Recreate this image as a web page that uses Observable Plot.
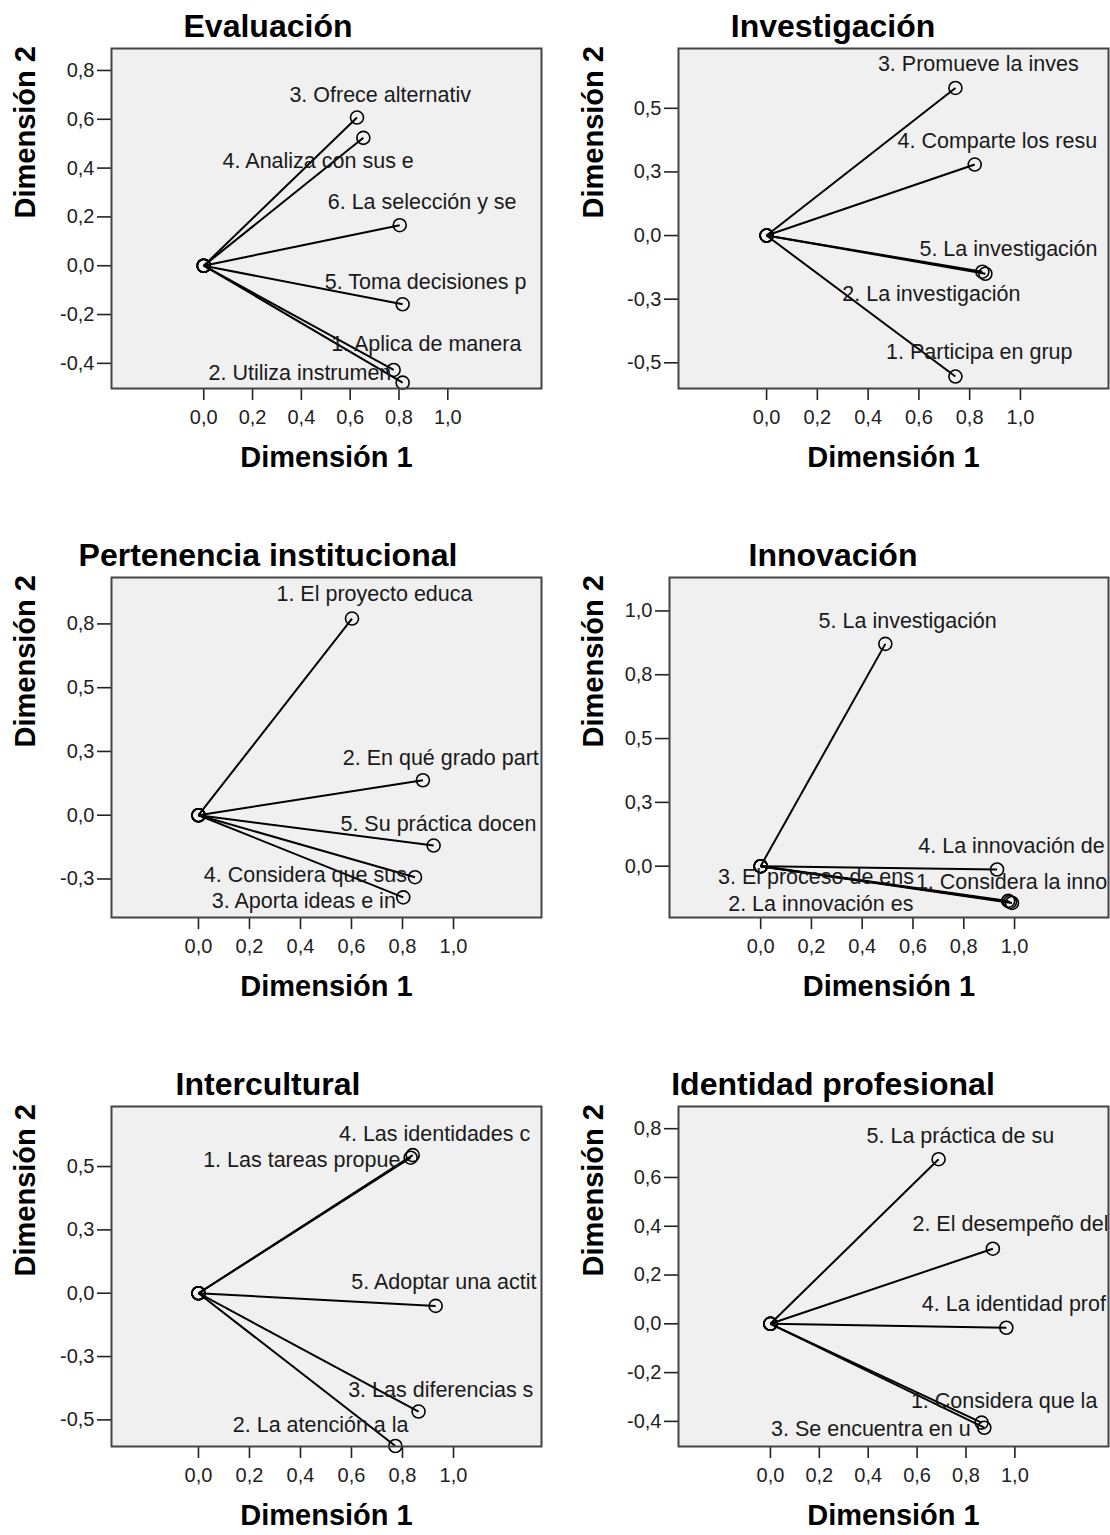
<!DOCTYPE html>
<html>
<head>
<meta charset="utf-8">
<script src="https://cdn.jsdelivr.net/npm/d3@7"></script>
<script src="https://cdn.jsdelivr.net/npm/@observablehq/plot@0.6"></script>
<style>
  html, body { margin: 0; padding: 0; background: #fff; overflow: hidden; }
  #page { position: relative; width: 1110px; height: 1535px; overflow: hidden; font-family: "Liberation Sans", Arial, sans-serif; }
  .title { position: absolute; font-weight: bold; font-size: 32px; line-height: 40px; text-align: center; color: #000; white-space: nowrap; }
  .chart { position: absolute; width: 555px; }
</style>
</head>
<body>
<div id="page"></div>
<script>
// ---------- DATA ----------
const panelTitles = ["Evaluación", "Investigación", "Pertenencia institucional", "Innovación", "Intercultural", "Identidad profesional"];

const xTickValues = [0, 0.2, 0.4, 0.6, 0.8, 1.0];
const xTickLabels = ["0,0", "0,2", "0,4", "0,6", "0,8", "1,0"];

// Evaluación
const evalNames = ["1. Aplica de manera", "2. Utiliza instrumen", "3. Ofrece alternativ", "4. Analiza con sus e", "5. Toma decisiones p", "6. La selección y se"];
const evalDim1 = [0.815, 0.778, 0.628, 0.654, 0.815, 0.803];
const evalDim2 = [-0.479, -0.427, 0.607, 0.524, -0.158, 0.166];
const evalYTicks = [0.8, 0.6, 0.4, 0.2, 0, -0.2, -0.4];
const evalYTickLabels = ["0,8", "0,6", "0,4", "0,2", "0,0", "-0,2", "-0,4"];

// Investigación
const invNames = ["1. Participa en grup", "2. La investigación", "3. Promueve la inves", "4. Comparte los resu", "5. La investigación"];
const invDim1 = [0.744, 0.850, 0.744, 0.820, 0.862];
const invDim2 = [-0.554, -0.142, 0.580, 0.279, -0.150];
const invYTicks = [0.5, 0.25, 0, -0.25, -0.5];
const invYTickLabels = ["0,5", "0,3", "0,0", "-0,3", "-0,5"];

// Pertenencia institucional
const perNames = ["1. El proyecto educa", "2. En qué grado part", "3. Aporta ideas e in", "4. Considera que sus", "5. Su práctica docen"];
const perDim1 = [0.602, 0.880, 0.803, 0.849, 0.922];
const perDim2 = [0.771, 0.137, -0.322, -0.243, -0.119];
const perYTicks = [0.75, 0.5, 0.25, 0, -0.25];
const perYTickLabels = ["0,8", "0,5", "0,3", "0,0", "-0,3"];

// Innovación
const innNames = ["1. Considera la inno", "2. La innovación es", "3. El proceso de ens", "4. La innovación de", "5. La investigación"];
const innDim1 = [0.990, 0.982, 0.975, 0.931, 0.491];
const innDim2 = [-0.144, -0.140, -0.136, -0.013, 0.871];
const innYTicks = [1.0, 0.75, 0.5, 0.25, 0];
const innYTickLabels = ["1,0", "0,8", "0,5", "0,3", "0,0"];

// Intercultural
const intNames = ["1. Las tareas propue", "2. La atención a la", "3. Las diferencias s", "4. Las identidades c", "5. Adoptar una actit"];
const intDim1 = [0.832, 0.772, 0.863, 0.840, 0.930];
const intDim2 = [0.535, -0.603, -0.467, 0.545, -0.050];
const intYTicks = [0.5, 0.25, 0, -0.25, -0.5];
const intYTickLabels = ["0,5", "0,3", "0,0", "-0,3", "-0,5"];

// Identidad profesional
const idNames = ["1. Considera que la", "2. El desempeño del", "3. Se encuentra en u", "4. La identidad prof", "5. La práctica de su"];
const idDim1 = [0.864, 0.910, 0.875, 0.965, 0.688];
const idDim2 = [-0.405, 0.308, -0.426, -0.016, 0.675];
const idYTicks = [0.8, 0.6, 0.4, 0.2, 0, -0.2, -0.4];
const idYTickLabels = ["0,8", "0,6", "0,4", "0,2", "0,0", "-0,2", "-0,4"];

// ---------- LAYOUT (label anchors in data units, scale domains) ----------
const evalLabelAt = [[0.912, -0.322], [0.394, -0.438], [0.723, 0.701], [0.469, 0.430], [0.909, -0.068], [0.895, 0.259]];
const invLabelAt = [[0.838, -0.458], [0.649, -0.232], [0.834, 0.674], [0.909, 0.373], [0.953, -0.052]];
const perLabelAt = [[0.690, 0.866], [0.950, 0.225], [0.413, -0.338], [0.419, -0.233], [0.941, -0.033]];
const innLabelAt = [[0.988, -0.061], [0.237, -0.149], [0.218, -0.042], [0.988, 0.078], [0.579, 0.962]];
const intLabelAt = [[0.405, 0.526], [0.479, -0.520], [0.950, -0.382], [0.926, 0.629], [0.962, 0.042]];
const idLabelAt = [[0.956, -0.317], [0.982, 0.407], [0.411, -0.430], [0.996, 0.079], [0.777, 0.768]];

const panels = [
  {names: evalNames, d1: evalDim1, d2: evalDim2, lab: evalLabelAt, yt: evalYTicks, ytl: evalYTickLabels, xd: [-0.378, 1.384], yd: [-0.503, 0.890], col: 0, row: 0, ml: 111},
  {names: invNames, d1: invDim1, d2: invDim2, lab: invLabelAt, yt: invYTicks, ytl: invYTickLabels, xd: [-0.347, 1.347], yd: [-0.601, 0.735], col: 1, row: 0, ml: 123},
  {names: perNames, d1: perDim1, d2: perDim2, lab: perLabelAt, yt: perYTicks, ytl: perYTickLabels, xd: [-0.341, 1.345], yd: [-0.401, 0.932], col: 0, row: 1, ml: 111},
  {names: innNames, d1: innDim1, d2: innDim2, lab: innLabelAt, yt: innYTicks, ytl: innYTickLabels, xd: [-0.359, 1.370], yd: [-0.201, 1.131], col: 1, row: 1, ml: 114},
  {names: intNames, d1: intDim1, d2: intDim2, lab: intLabelAt, yt: intYTicks, ytl: intYTickLabels, xd: [-0.341, 1.345], yd: [-0.605, 0.737], col: 0, row: 2, ml: 111},
  {names: idNames, d1: idDim1, d2: idDim2, lab: idLabelAt, yt: idYTicks, ytl: idYTickLabels, xd: [-0.376, 1.383], yd: [-0.503, 0.891], col: 1, row: 2, ml: 123}
];

const page = document.getElementById("page");
const FONT = "Liberation Sans, Arial, sans-serif";

panels.forEach((p, k) => {
  const bx = p.col * 555, by = p.row * 529;
  const mr = p.col === 0 ? 14 : 2;
  const yLabelX = p.col === 0 ? 25 : 38; // centre of "Dimensión 2" within the panel block

  const t = document.createElement("div");
  t.className = "title";
  t.textContent = panelTitles[k];
  t.style.top = (by + 6) + "px";
  t.style.left = (p.col === 0 ? 0 : 555) + "px";
  t.style.width = (p.col === 0 ? 536 : 556) + "px";
  page.appendChild(t);

  const items = p.names.map((n, i) => ({name: n, d1: p.d1[i], d2: p.d2[i], lx: p.lab[i][0], ly: p.lab[i][1]}));

  const chart = Plot.plot({
    width: 555,
    height: 448,
    marginTop: 8,
    marginBottom: 100,
    marginLeft: p.ml,
    marginRight: mr,
    style: {fontFamily: FONT, fontSize: "20px", color: "#222", background: "transparent", overflow: "visible"},
    x: {domain: p.xd, label: null},
    y: {domain: p.yd, label: null},
    marks: [
      Plot.frame({fill: "#f0f0f0", stroke: null}),
      Plot.axisX(xTickValues, {tickSize: 12, tickPadding: 9, strokeWidth: 1.6, fontSize: 20, label: null,
        tickFormat: d => xTickLabels[xTickValues.indexOf(d)]}),
      Plot.axisY(p.yt, {tickSize: 14, tickPadding: 3, strokeWidth: 1.6, fontSize: 20, label: null,
        tickFormat: d => p.ytl[p.yt.indexOf(d)]}),
      Plot.link(items, {x1: 0, y1: 0, x2: "d1", y2: "d2", stroke: "#000", strokeWidth: 2}),
      Plot.dot(items, {x: 0, y: 0, r: 6.5, stroke: "#000", strokeWidth: 1.6, fill: "none"}),
      Plot.dot(items, {x: "d1", y: "d2", r: 6.5, stroke: "#000", strokeWidth: 1.6, fill: "none"}),
      Plot.text(items, {x: "lx", y: "ly", text: "name", fontSize: 21.5, fill: "#1a1a1a"}),
      Plot.frame({stroke: "#444", strokeWidth: 2, fill: null}),
      Plot.text(["Dimensión 1"], {text: d => d, frameAnchor: "bottom", dy: 78, fontSize: 29, fontWeight: "bold", fill: "#000"}),
      Plot.text(["Dimensión 2"], {text: d => d, frameAnchor: "left", rotate: -90, dx: yLabelX - p.ml, fontSize: 29, fontWeight: "bold", fill: "#000"})
    ]
  });
  const wrap = document.createElement("div");
  wrap.className = "chart";
  wrap.style.left = bx + "px";
  wrap.style.top = (by + 40) + "px";
  wrap.appendChild(chart);
  page.appendChild(wrap);
});
</script>
</body>
</html>
